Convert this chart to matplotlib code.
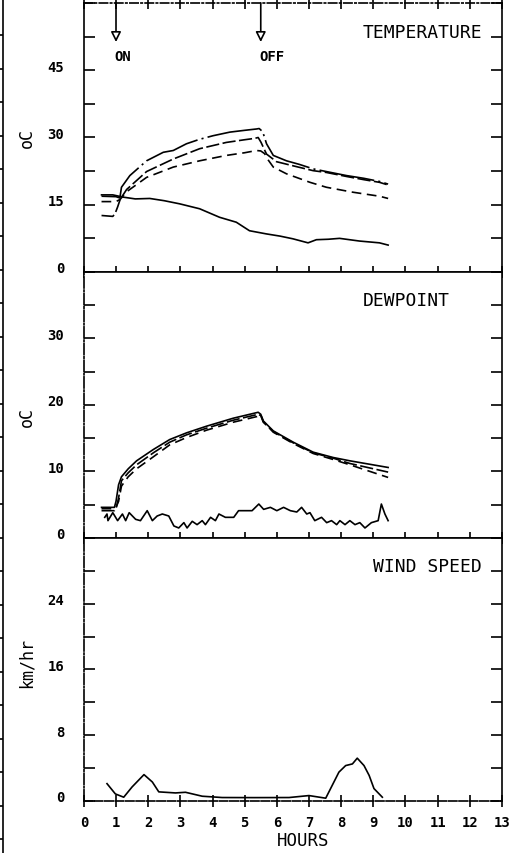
import numpy as np
import matplotlib
matplotlib.use("Agg")
import matplotlib.pyplot as plt
from matplotlib.ticker import FixedLocator, FixedFormatter
from matplotlib.transforms import ScaledTranslation

plt.rcParams["font.family"] = "DejaVu Sans Mono"
plt.rcParams["lines.scale_dashes"] = False

# --- temperature (degC) ---
tt_top = [0.55, 1.0, 1.12, 1.17, 1.43, 1.95, 2.47, 2.78, 3.19, 3.6, 4.02, 4.54, 5.0, 5.37, 5.45,
          5.56, 5.68, 5.89, 6.3, 6.7, 7.13, 7.54, 8.17, 8.7, 9.19, 9.46]
temp_top = [16.9, 16.8, 16.5, 18.9, 21.5, 24.8, 26.7, 27.1, 28.6, 29.6, 30.4, 31.2, 31.6, 31.9, 32.0,
            31.3, 28.6, 26.0, 24.8, 24.0, 23.0, 22.4, 21.5, 20.9, 20.2, 19.6]
tt_mid = [0.55, 0.9, 0.97, 1.05, 1.13, 1.33, 1.95, 2.78, 3.6, 4.43, 5.0, 5.31, 5.42, 5.51, 5.6,
          5.68, 5.99, 6.61, 7.13, 7.54, 8.17, 8.7, 9.19, 9.46]
temp_mid = [12.6, 12.4, 13.0, 14.5, 16.2, 18.4, 22.4, 25.2, 27.5, 28.9, 29.5, 29.8, 30.0, 28.9, 27.5,
            26.3, 24.6, 23.5, 22.6, 22.2, 21.3, 20.6, 20.0, 19.4]
tt_low = [0.55, 1.0, 1.13, 1.33, 1.95, 2.78, 3.6, 4.43, 5.0, 5.37, 5.5, 5.62, 5.73, 5.89, 6.3,
          7.03, 7.54, 8.36, 9.19, 9.46]
temp_low = [15.7, 15.7, 16.2, 17.9, 21.1, 23.4, 24.8, 26.0, 26.6, 27.1, 27.0, 26.4, 25.0, 23.4, 21.9,
            20.0, 18.9, 17.8, 16.9, 16.4]
tt_amb = [0.55, 0.9, 1.22, 1.6, 2.05, 2.5, 2.98, 3.6, 4.22, 4.74, 5.15, 5.67, 6.1, 6.5, 6.97, 7.23,
          7.6, 7.95, 8.57, 9.19, 9.46]
temp_amb = [17.2, 17.2, 16.7, 16.3, 16.4, 15.9, 15.2, 14.1, 12.2, 11.1, 9.2, 8.5, 8.0, 7.4, 6.5, 7.2,
            7.3, 7.5, 6.9, 6.5, 6.0]

# --- dewpoint (degC) ---
td_hr = [0.55, 0.95, 1.0, 1.08, 1.17, 1.38, 1.64, 2.16, 2.67, 3.19, 3.81, 4.64, 5.16, 5.42, 5.5,
         5.58, 5.89, 6.51, 7.13, 7.75, 8.27, 9.46]
dew_1 = [4.6, 4.6, 5.5, 8.0, 9.2, 10.4, 11.6, 13.3, 14.8, 15.8, 16.8, 18.0, 18.6, 18.9, 18.6,
         17.6, 16.1, 14.4, 12.9, 12.1, 11.6, 10.6]
dew_2 = [4.1, 4.1, 4.4, 6.0, 8.6, 9.8, 11.0, 12.8, 14.4, 15.5, 16.5, 17.7, 18.3, 18.6, 18.4,
         17.4, 16.0, 14.3, 12.8, 12.0, 11.2, 9.9]
dew_3 = [4.4, 4.4, 4.6, 5.5, 7.8, 9.2, 10.4, 12.2, 14.0, 15.1, 16.2, 17.4, 18.0, 18.3, 18.5,
         17.5, 15.9, 14.2, 12.7, 11.8, 11.0, 9.1]
td_amb = [0.65, 0.72, 0.75, 0.9, 1.05, 1.2, 1.3, 1.41, 1.61, 1.76, 1.97, 2.13, 2.28, 2.44, 2.64,
          2.8, 2.95, 3.11, 3.21, 3.37, 3.52, 3.68, 3.78, 3.94, 4.09, 4.2, 4.4, 4.66, 4.81, 5.23,
          5.44, 5.59, 5.8, 6.0, 6.21, 6.42, 6.62, 6.77, 6.93, 7.03, 7.18, 7.39, 7.55, 7.7, 7.86,
          7.96, 8.12, 8.27, 8.43, 8.58, 8.74, 8.94, 9.15, 9.25, 9.36, 9.46]
dew_amb = [3.1, 3.6, 2.6, 3.8, 2.6, 3.6, 2.6, 3.8, 2.8, 2.6, 4.1, 2.6, 3.3, 3.6, 3.3,
           1.8, 1.5, 2.3, 1.5, 2.5, 2.0, 2.6, 2.0, 3.1, 2.6, 3.6, 3.1, 3.1, 4.1, 4.1,
           5.1, 4.3, 4.6, 4.1, 4.6, 4.1, 3.9, 4.6, 3.6, 3.8, 2.6, 3.1, 2.3, 2.6, 2.0,
           2.6, 2.0, 2.6, 2.0, 2.3, 1.5, 2.3, 2.6, 5.1, 3.6, 2.6]

# --- wind speed (km/hr) ---
tw_hr = [0.72, 0.98, 1.24, 1.5, 1.87, 2.13, 2.33, 2.85, 3.16, 3.68, 4.3, 5.3, 6.38, 7.0, 7.52,
         7.93, 8.14, 8.35, 8.5, 8.71, 8.87, 9.02, 9.28]
wind = [2.1, 0.85, 0.45, 1.7, 3.2, 2.3, 1.1, 0.97, 1.05, 0.57, 0.41, 0.4, 0.41, 0.65, 0.33,
        3.5, 4.3, 4.5, 5.2, 4.3, 3.1, 1.5, 0.45]

hour_ticks = list(range(0, 14))
on_hr, off_hr = 1.0, 5.5

ls_top = (0, (40, 3, 1.5, 3))
ls_mid = (0, (9.5, 2.5))
ls_low = (0, (7, 4))
LW = 1.2

fig, axes = plt.subplots(3, 1, sharex=True, figsize=(5.24, 8.54), dpi=100,
                         gridspec_kw=dict(height_ratios=[269, 266, 263]))
fig.subplots_adjust(left=0.160, right=0.958, bottom=0.061, top=0.9953, hspace=0)
ax1, ax2, ax3 = axes

ax1.plot(tt_top, temp_top, color="k", lw=LW, ls=ls_top)
ax1.plot(tt_mid, temp_mid, color="k", lw=LW, ls=ls_mid)
ax1.plot(tt_low, temp_low, color="k", lw=LW, ls=ls_low)
ax1.plot(tt_amb, temp_amb, color="k", lw=LW)

ax2.plot(td_hr, dew_1, color="k", lw=LW)
ax2.plot(td_hr, dew_2, color="k", lw=LW, ls=ls_mid)
ax2.plot(td_hr, dew_3, color="k", lw=LW, ls=ls_low)
ax2.plot(td_amb, dew_amb, color="k", lw=LW)

ax3.plot(tw_hr, wind, color="k", lw=LW)

# y scales: (limit, tick step, labelled values)
yspec = [(60, 7.5, [0, 15, 30, 45]), (40, 5, [0, 10, 20, 30]), (32, 4, [0, 8, 16, 24])]
titles = [("TEMPERATURE", 0.667), ("DEWPOINT", 0.667), ("WIND SPEED", 0.691)]
ylabels = [("oC", 0.50), ("oC", 0.46), ("km/hr", 0.53)]
shift_up = ScaledTranslation(0, 5 / 100, fig.dpi_scale_trans)

for ax, (top, step, lab), (title, tx), (yl, ly) in zip(axes, yspec, titles, ylabels):
    ax.set_xlim(0, 13)
    ax.set_ylim(0, top)
    ticks = np.arange(0, top + 0.01, step)
    ax.yaxis.set_major_locator(FixedLocator(ticks))
    ax.yaxis.set_major_formatter(FixedFormatter(
        [f"{int(v)}" if any(abs(v - l) < 1e-6 for l in lab) else "" for v in ticks]))
    ax.xaxis.set_major_locator(FixedLocator(hour_ticks))
    ax.tick_params(axis="y", direction="in", length=8, width=1.2, right=True, pad=14,
                   labelsize=10)
    ax.tick_params(axis="x", direction="inout", length=9, width=1.2, pad=6, labelsize=10)
    for t in ax.get_yticklabels():
        t.set_fontweight("bold")
        t.set_transform(t.get_transform() + shift_up)
    for s in ax.spines.values():
        s.set_linewidth(1.2)
    ax.text(tx, 0.893, title, transform=ax.transAxes, fontsize=13, ha="left", va="center")
    ax.set_ylabel(yl, fontsize=12)
    ax.yaxis.set_label_coords(-0.115, ly)

ax1.spines["top"].set_linestyle((0, (6, 2, 1, 2)))
ax1.tick_params(axis="x", top=True, labeltop=False)
ax2.spines["left"].set_linestyle((0, (8, 1.5, 1, 1.5)))
ax3.spines["left"].set_linestyle((0, (8, 1.5, 1, 1.5)))
ax3.spines["bottom"].set_linestyle((0, (6, 1.5)))

ax3.set_xticklabels([str(h) for h in hour_ticks], fontweight="bold")
ax3.set_xlabel("HOURS", fontsize=12.5, labelpad=2)
ax3.xaxis.set_label_coords(0.524, -0.115)

# heater on / off markers
for hr, txt in [(on_hr, "ON"), (off_hr, "OFF")]:
    ax1.annotate("", xy=(hr, 51.3), xytext=(hr, 60),
                 arrowprops=dict(arrowstyle="-|>,head_length=0.6,head_width=0.3",
                                 fc="white", ec="k", lw=1.2, shrinkA=0, shrinkB=0))
    ax1.text(hr - 0.04, 48.2, txt, fontsize=10, fontweight="bold", ha="left", va="center")

# edge of the neighbouring page frame
edge = fig.add_axes([0, 0, 0.006, 1])
edge.set_ylim(854, 0)
edge.set_xlim(0, 1)
for k in ["top", "bottom", "left"]:
    edge.spines[k].set_visible(False)
edge.spines["right"].set_linewidth(1.2)
edge.set_xticks([])
edge.yaxis.set_ticks_position("right")
edge.set_yticks(np.arange(36, 854, 33.5))
edge.tick_params(axis="y", direction="in", length=3, width=1.2, labelright=False, labelleft=False)

fig.savefig("out.png", dpi=100)
